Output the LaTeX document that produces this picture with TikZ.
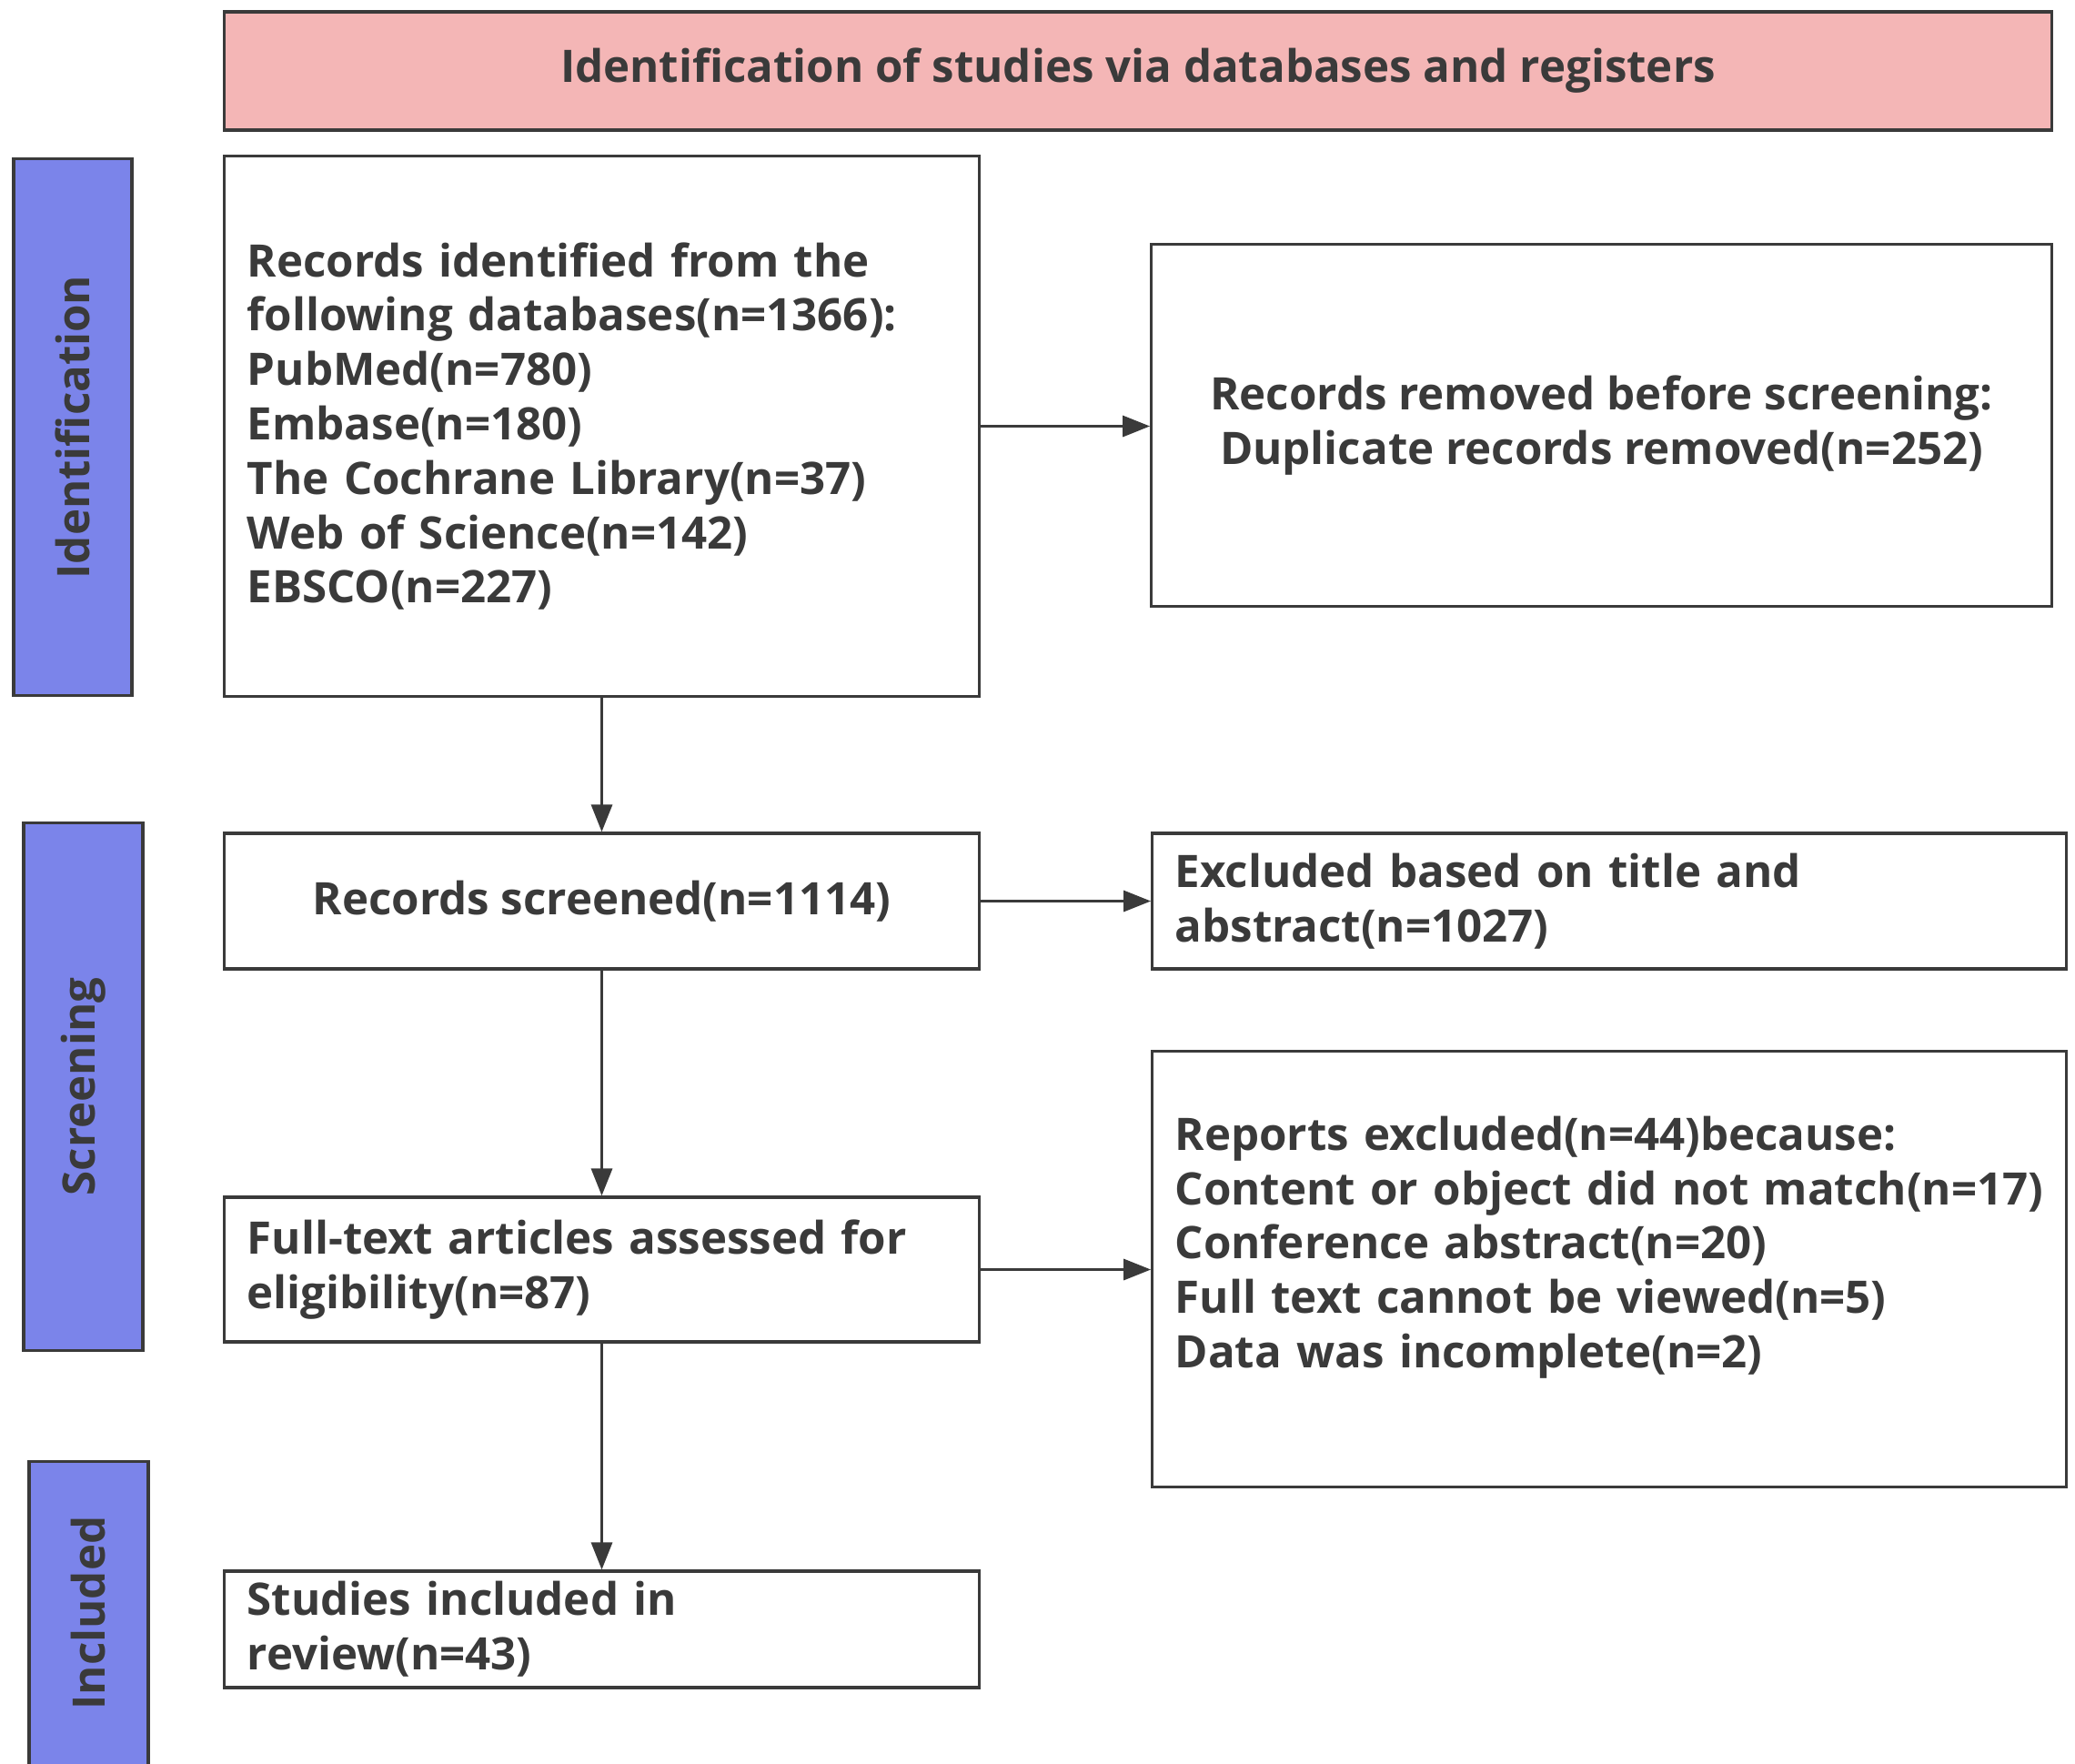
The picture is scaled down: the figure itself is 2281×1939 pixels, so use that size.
\documentclass[tikz,border=0pt]{standalone}
\usepackage{fontspec}
\setmainfont{Open Sans}
\usetikzlibrary{arrows.meta}
\definecolor{headpink}{HTML}{F4B6B6}
\definecolor{barblue}{HTML}{7B84EA}
\definecolor{linegray}{HTML}{3A3A3A}
\begin{document}
\begin{tikzpicture}
[x=0.01cm,y=-0.01cm,
every node/.style={font=\fontsize{14}{17}\selectfont\bfseries,text=linegray},
box/.style={draw=linegray,line width=0.9pt,rectangle,inner xsep=0.25cm,inner ysep=0pt},
leftbox/.style={box,align=left},
bar/.style={draw=linegray,fill=barblue,line width=0.9pt,rectangle,inner sep=0pt},
arrow/.style={draw=linegray,line width=0.9pt,-{Triangle[length=3mm,width=2.3mm]}}]
	\useasboundingbox (0,0) rectangle (2281,1939);
	% header
	\node[box,fill=headpink,minimum width=20.08cm,minimum height=1.3cm] (head) at (1251,78)
		{Identification of studies via databases and registers};
	% stage bars
	\node[bar,minimum width=1.3cm,minimum height=5.89cm] (barId) at (80,469.5) {};
	\node[rotate=90] (barIdtext) at (barId) {Identification};
	\node[bar,minimum width=1.31cm,minimum height=5.79cm] (barScr) at (91.5,1194.5) {};
	\node[rotate=90] (barScrtext) at (barScr) {Screening};
	\node[bar,minimum width=1.31cm,minimum height=3.43cm] (barInc) at (97.5,1778.5) {};
	\node[rotate=90] (barInctext) at (97.5,1773) {Included};
	% left column
	\node[leftbox,text width=7.79cm,minimum height=5.93cm] (records) at (661.5,468.5)
		{Records identified from the\\following databases(n=1366):\\PubMed(n=780)\\Embase(n=180)\\The Cochrane Library(n=37)\\Web of Science(n=142)\\EBSCO(n=227)};
	\node[box,minimum width=8.29cm,minimum height=1.49cm] (screened) at (661.5,990.5)
		{Records screened(n=1114)};
	\node[leftbox,text width=7.79cm,minimum height=1.59cm] (fulltext) at (661.5,1395.5)
		{Full-text articles assessed for\\eligibility(n=87)};
	\node[leftbox,text width=7.79cm,minimum height=1.28cm] (included) at (661.5,1791)
		{Studies included in\\review(n=43)};
	% right column
	\node[box,align=center,minimum width=9.89cm,minimum height=3.97cm] (removed) at (1760.5,467.5)
		{Records removed before screening:\\Duplicate records removed(n=252)};
	\node[leftbox,text width=9.54cm,minimum height=1.49cm] (excluded) at (1769,990.5)
		{Excluded based on title and\\abstract(n=1027)};
	\node[leftbox,text width=9.54cm,minimum height=4.78cm] (reports) at (1769,1395)
		{Reports excluded(n=44)because:\\Content or object did not match(n=17)\\Conference abstract(n=20)\\Full text cannot be viewed(n=5)\\Data was incomplete(n=2)\\ \mbox{}};
	% connectors
	\draw[arrow] (records) -- (screened);
	\draw[arrow] (screened) -- (fulltext);
	\draw[arrow] (fulltext) -- (included);
	\draw[arrow] (records.east) -- (records.east -| removed.west);
	\draw[arrow] (screened.east) -- (screened.east -| excluded.west);
	\draw[arrow] (fulltext.east) -- (fulltext.east -| reports.west);
\end{tikzpicture}
\end{document}
